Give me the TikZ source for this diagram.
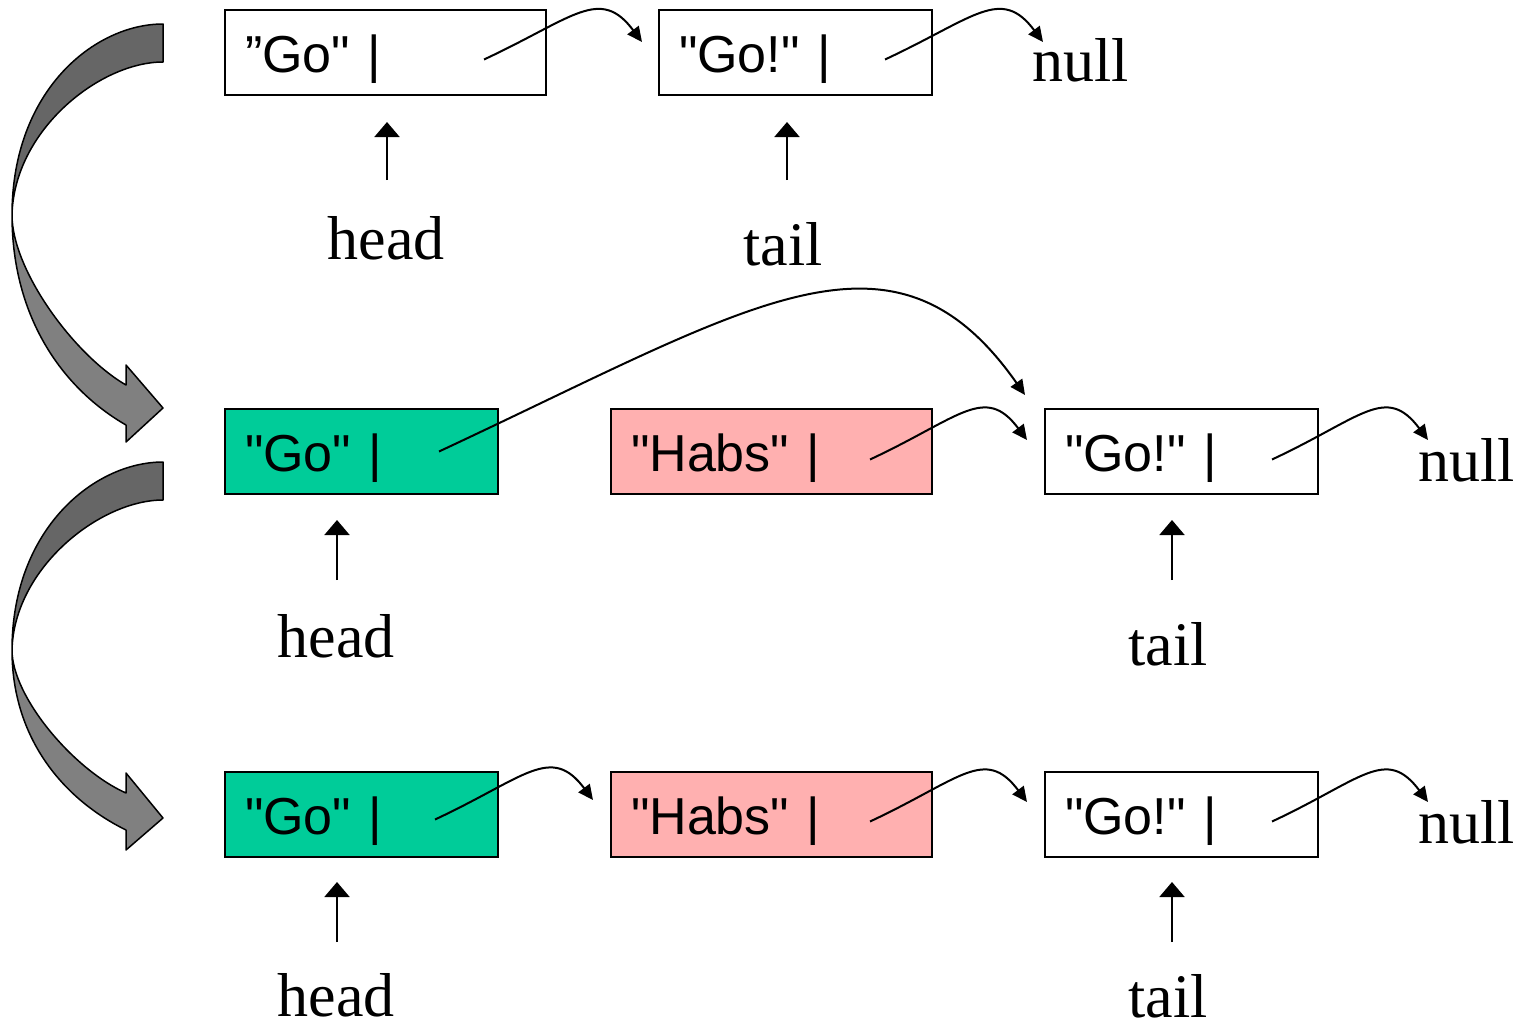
\documentclass[tikz,border=0pt]{standalone}
\usepackage{fontspec}
\setmainfont{Liberation Serif}
\newfontfamily\cellfont{Liberation Sans}
\usetikzlibrary{arrows.meta,calc}
\definecolor{cgreen}{RGB}{0,204,153}
\definecolor{cpink}{RGB}{255,176,176}
\definecolor{gdark}{RGB}{102,102,102}
\definecolor{glight}{RGB}{128,128,128}
\begin{document}
\begin{tikzpicture}[x=1pt,y=-1pt,
  cell/.style={draw, line width=2pt, anchor=north west, minimum height=85pt,
    inner xsep=20pt, inner ysep=0pt, text height=39pt, text depth=0pt,
    align=left, font=\cellfont\fontsize{52}{58}\selectfont},
  wide/.style={text width=281pt},
  narrow/.style={text width=233pt},
  lbl/.style={anchor=base, inner sep=0pt, font=\fontsize{62}{70}\selectfont},
  nul/.style={anchor=base west, inner sep=0pt, font=\fontsize{62}{70}\selectfont},
  conn/.style={-{Triangle[length=15pt,width=14pt]}, line width=2pt},
  upar/.style={-{Triangle[length=15pt,width=25pt]}, line width=2pt},
  bigarrow/.style={draw=black, line width=1.5pt, line join=round}]
\useasboundingbox (0,0) rectangle (1523,1029);

% ---------- big curved arrows ----------
% arrow 1
\fill[glight] (12,215) .. controls (12,320) and (65,390) .. (126,425)
  -- (126,442) -- (163,408) -- (126,365) -- (126,385)
  .. controls (74,355) and (12,270) .. (12,215) -- cycle;
\fill[gdark] (163,24) .. controls (95,24) and (12,90) .. (12,215)
  .. controls (14,130) and (100,62) .. (163,62) -- cycle;
\draw[bigarrow] (163,62) .. controls (100,62) and (14,130) .. (12,215)
  .. controls (12,270) and (74,355) .. (126,385) -- (126,365) -- (163,408)
  -- (126,442) -- (126,425) .. controls (65,390) and (12,320) .. (12,215)
  .. controls (12,90) and (95,24) .. (163,24) -- cycle;
% arrow 2
\fill[glight] (12,650) .. controls (12,740) and (65,800) .. (126,830)
  -- (126,850) -- (163,818) -- (126,773) -- (126,793)
  .. controls (74,770) and (12,697) .. (12,650) -- cycle;
\fill[gdark] (163,462) .. controls (95,462) and (12,528) .. (12,650)
  .. controls (14,568) and (100,500) .. (163,500) -- cycle;
\draw[bigarrow] (163,500) .. controls (100,500) and (14,568) .. (12,650)
  .. controls (12,697) and (74,770) .. (126,793) -- (126,773) -- (163,818)
  -- (126,850) -- (126,830) .. controls (65,800) and (12,740) .. (12,650)
  .. controls (12,528) and (95,462) .. (163,462) -- cycle;

% ---------- row 1 ----------
\node[cell,wide] (b1) at (224,9) {”Go" |};
\node[cell,narrow] (b2) at (658,9) {"Go!" |};
\node[nul] (n1) at (1032,81) {null};
\node[lbl] (h1) at (386,259) {head};
\node[lbl] (t1) at (783,265) {tail};

% ---------- row 2 ----------
\node[cell,narrow,fill=cgreen] (g2) at (224,408) {"Go" |};
\node[cell,wide,fill=cpink] (p2) at (610,408) {"Habs" |};
\node[cell,narrow] (w2) at (1044,408) {"Go!" |};
\node[nul] (n2) at (1418,481) {null};
\node[lbl] (h2) at (336,657) {head};
\node[lbl] (t2) at (1168,665) {tail};

% ---------- row 3 ----------
\node[cell,narrow,fill=cgreen] (g3) at (224,771) {"Go" |};
\node[cell,wide,fill=cpink] (p3) at (610,771) {"Habs" |};
\node[cell,narrow] (w3) at (1044,771) {"Go!" |};
\node[nul] (n3) at (1418,843) {null};
\node[lbl] (h3) at (336,1016) {head};
\node[lbl] (t3) at (1168,1017) {tail};

% ---------- connector coordinates ----------
\coordinate (b1s) at ([shift={(-63,7)}]b1.east);
\coordinate (b2s) at ([shift={(-48,7)}]b2.east);
\coordinate (g2s) at ([shift={(-60,0)}]g2.east);
\coordinate (p2s) at ([shift={(-63,8)}]p2.east);
\coordinate (w2s) at ([shift={(-47,8)}]w2.east);
\coordinate (g3s) at ([shift={(-64,5)}]g3.east);
\coordinate (p3s) at ([shift={(-63,7)}]p3.east);
\coordinate (w3s) at ([shift={(-47,7)}]w3.east);

\coordinate (b2t) at ([shift={(-16,33)}]b2.north west);
\coordinate (w2ta) at ([shift={(-19,-13)}]w2.north west);
\coordinate (w2tb) at ([shift={(-17,32)}]w2.north west);
\coordinate (p3t) at ([shift={(-17,29)}]p3.north west);
\coordinate (w3t) at ([shift={(-17,31)}]w3.north west);
\coordinate (n1t) at (1043,42);
\coordinate (n2t) at (1428,440);
\coordinate (n3t) at (1428,802);

% ---------- connectors ----------
\draw[conn] (b1s) .. controls +(90,-42) and +(-42,-56) .. (b2t);
\draw[conn] (b2s) .. controls +(90,-42) and +(-42,-56) .. (n1t);
\draw[conn] (g2s) .. controls +(315,-147) and +(-132,-188) .. (w2ta);
\draw[conn] (p2s) .. controls +(90,-42) and +(-42,-56) .. (w2tb);
\draw[conn] (w2s) .. controls +(90,-42) and +(-42,-56) .. (n2t);
\draw[conn] (g3s) .. controls +(90,-42) and +(-42,-56) .. (p3t);
\draw[conn] (p3s) .. controls +(90,-42) and +(-42,-56) .. (w3t);
\draw[conn] (w3s) .. controls +(90,-42) and +(-42,-56) .. (n3t);

% ---------- head / tail pointers ----------
\coordinate (h1b) at (387,180); \coordinate (h1a) at (387,122);
\coordinate (t1b) at (787,180); \coordinate (t1a) at (787,122);
\coordinate (h2b) at (337,580); \coordinate (h2a) at (337,520);
\coordinate (t2b) at (1172,580); \coordinate (t2a) at (1172,520);
\coordinate (h3b) at (337,942); \coordinate (h3a) at (337,882);
\coordinate (t3b) at (1172,942); \coordinate (t3a) at (1172,882);
\draw[upar] (h1b) -- (h1a);
\draw[upar] (t1b) -- (t1a);
\draw[upar] (h2b) -- (h2a);
\draw[upar] (t2b) -- (t2a);
\draw[upar] (h3b) -- (h3a);
\draw[upar] (t3b) -- (t3a);
\end{tikzpicture}
\end{document}
